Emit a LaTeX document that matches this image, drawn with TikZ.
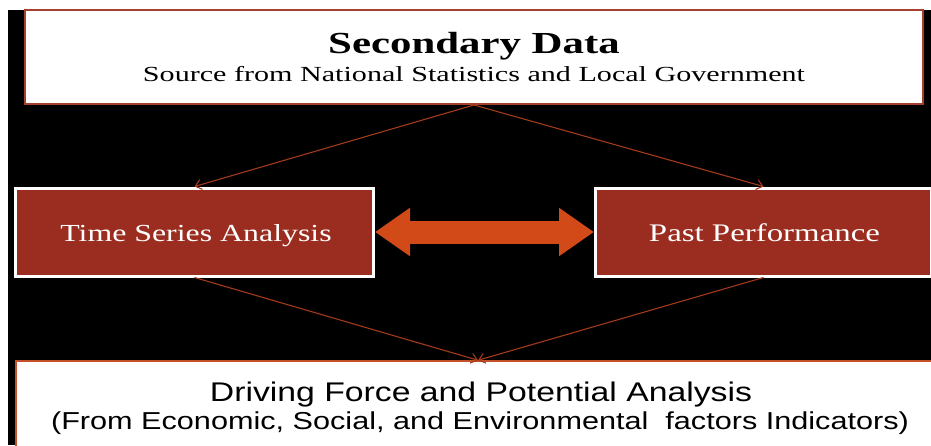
\documentclass[tikz,border=0pt]{standalone}
\usepackage{fontspec}
\usepackage{xcolor}
\usepackage{tikz}
\usetikzlibrary{arrows.meta}
\newfontfamily\slideserif[FakeStretch=1.4]{Liberation Serif}
\newfontfamily\boxserif[FakeStretch=1.3]{Liberation Serif}
\newfontfamily\slidesans[FakeStretch=1.25]{Liberation Sans}
\definecolor{boxred}{HTML}{9B2D20}
\definecolor{linkred}{HTML}{A33A1A}
\definecolor{edgered}{HTML}{A5402F}
\definecolor{edgeorange}{HTML}{C4502A}
\definecolor{arroworange}{HTML}{D24A18}

\begin{document}
\begin{tikzpicture}[
        x=1pt, y=-1pt,
        whitebox/.style={rectangle, draw=edgered, fill=white, line width=2pt, inner sep=0pt},
        redbox/.style={rectangle, draw=white, fill=boxred, line width=3pt, inner sep=0pt, text=white},
        label/.style={anchor=base, inner sep=0pt},
        arrow/.style={draw=linkred, line width=1.1pt, -{Straight Barb[length=6pt,width=10pt]}}
    ]
        % Background
        \useasboundingbox (0,0) rectangle (931,445);
        \fill[white] (0,0) rectangle (931,445);
        \fill[black] (8,10) rectangle (931,445);

        % Nodes
        \node[whitebox, minimum width=898pt, minimum height=94pt] (secondary) at (474,57) {};
        \node[redbox, minimum width=358pt, minimum height=88pt] (timeseries) at (194.5,232) {};
        \node[redbox, minimum width=336pt, minimum height=88pt] (past) at (763.5,232) {};
        \node[whitebox, draw=edgeorange, line width=1.5pt, minimum width=924pt, minimum height=100pt] (driving) at (478,411) {};

        % Texts
        \node[label] (secondarytitle) at (474,53) {\slideserif\fontsize{30.6}{32}\selectfont\bfseries Secondary Data};
        \node[label] (secondarysub) at (474,81) {\slideserif\fontsize{21.5}{23}\selectfont Source from National Statistics and Local Government};
        \node[label, text=white] (timeseriestext) at (196,241) {\boxserif\fontsize{24.5}{26}\selectfont Time Series Analysis};
        \node[label, text=white] (pasttext) at (764.5,241) {\boxserif\fontsize{25.3}{27}\selectfont Past Performance};
        \node[label] (drivingtitle) at (481,401) {\slidesans\fontsize{27}{29}\selectfont Driving Force and Potential Analysis};
        \node[label] (drivingsub) at (480,429) {\slidesans\fontsize{24.5}{26}\selectfont (From Economic, Social, and Environmental\ \ factors Indicators)};

        % Arrows
        \draw[arrow] (secondary.south) -- (timeseries.north);
        \draw[arrow] (secondary.south) -- (past.north);
        \draw[arrow] (timeseries.south) -- (driving.north);
        \draw[arrow] (past.south) -- (driving.north);
        \draw[arroworange, line width=23pt,
              {Triangle[width=46pt,length=35pt]}-{Triangle[width=46pt,length=35pt]}]
              (timeseries.east) -- (past.west);
    \end{tikzpicture}
\end{document}
